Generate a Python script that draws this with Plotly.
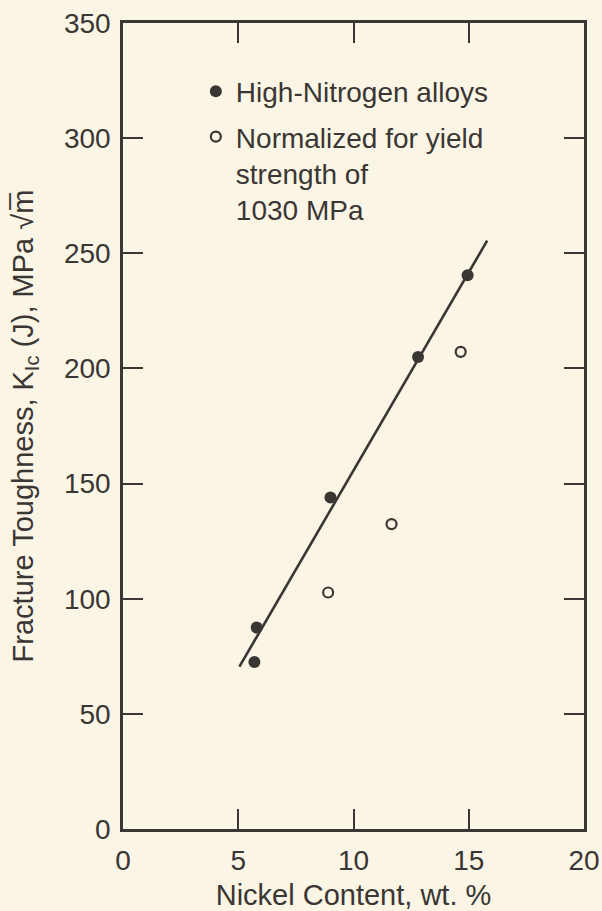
import plotly.graph_objects as go

# Fracture toughness vs nickel content
hn_nickel = [5.7, 5.8, 9.0, 12.8, 14.95]
hn_kic = [72.5, 87.5, 144.0, 205.0, 240.5]

norm_nickel = [8.9, 11.65, 14.65]
norm_kic = [102.7, 132.4, 207.2]

fit_nickel = [5.05, 15.8]
fit_kic = [70.5, 255.5]

x_ticks = [0, 5, 10, 15, 20]
y_ticks = [0, 50, 100, 150, 200, 250, 300, 350]

ink = "#3a3633"
paper = "#fbf5e6"
font_family = "Liberation Sans, Arial, sans-serif"

fig = go.Figure()

fig.add_trace(go.Scatter(
    x=fit_nickel, y=fit_kic, mode="lines",
    line=dict(color=ink, width=2.6),
    showlegend=False, hoverinfo="skip",
))

fig.add_trace(go.Scatter(
    x=hn_nickel, y=hn_kic, mode="markers",
    name="High-Nitrogen alloys", legendgroup="hn",
    marker=dict(symbol="circle", size=12, color=ink, line=dict(width=0)),
))

fig.add_trace(go.Scatter(
    x=norm_nickel, y=norm_kic, mode="markers",
    name="Normalized for yield<br>strength of<br>1030 MPa", legendgroup="norm",
    marker=dict(symbol="circle-open", size=10, color=ink, line=dict(width=2.2, color=ink)),
))

axis_common = dict(
    showline=True, linecolor=ink, linewidth=2.5, mirror="allticks",
    ticks="inside", ticklen=20, tickwidth=2, tickcolor=ink,
    showgrid=False, zeroline=False, automargin=False,
    tickfont=dict(family=font_family, size=28, color=ink),
)

fig.update_xaxes(
    range=[0, 20], tickvals=x_ticks, ticktext=[str(v) for v in x_ticks],
    title=dict(text="Nickel Content, wt. %",
               font=dict(family=font_family, size=29, color=ink), standoff=23),
    ticklabelstandoff=5,
    **axis_common,
)
fig.update_yaxes(
    range=[0, 350], tickvals=y_ticks, ticktext=[str(v) for v in y_ticks],
    title=dict(text="Fracture Toughness, K<sub>Ic</sub> (J), MPa √m\u0305",
               font=dict(family=font_family, size=29, color=ink), standoff=22),
    ticklabelstandoff=4,
    **axis_common,
)

fig.update_layout(
    width=602, height=911,
    margin=dict(l=123, r=18, t=23, b=82),
    paper_bgcolor=paper, plot_bgcolor=paper,
    font=dict(family=font_family, color=ink),
    legend=dict(
        x=0.158, y=0.946, xanchor="left", yanchor="top",
        bgcolor="rgba(0,0,0,0)", borderwidth=0,
        font=dict(family=font_family, size=28, color=ink),
        valign="top", tracegroupgap=6,
    ),
)

fig.write_html("out.html")
